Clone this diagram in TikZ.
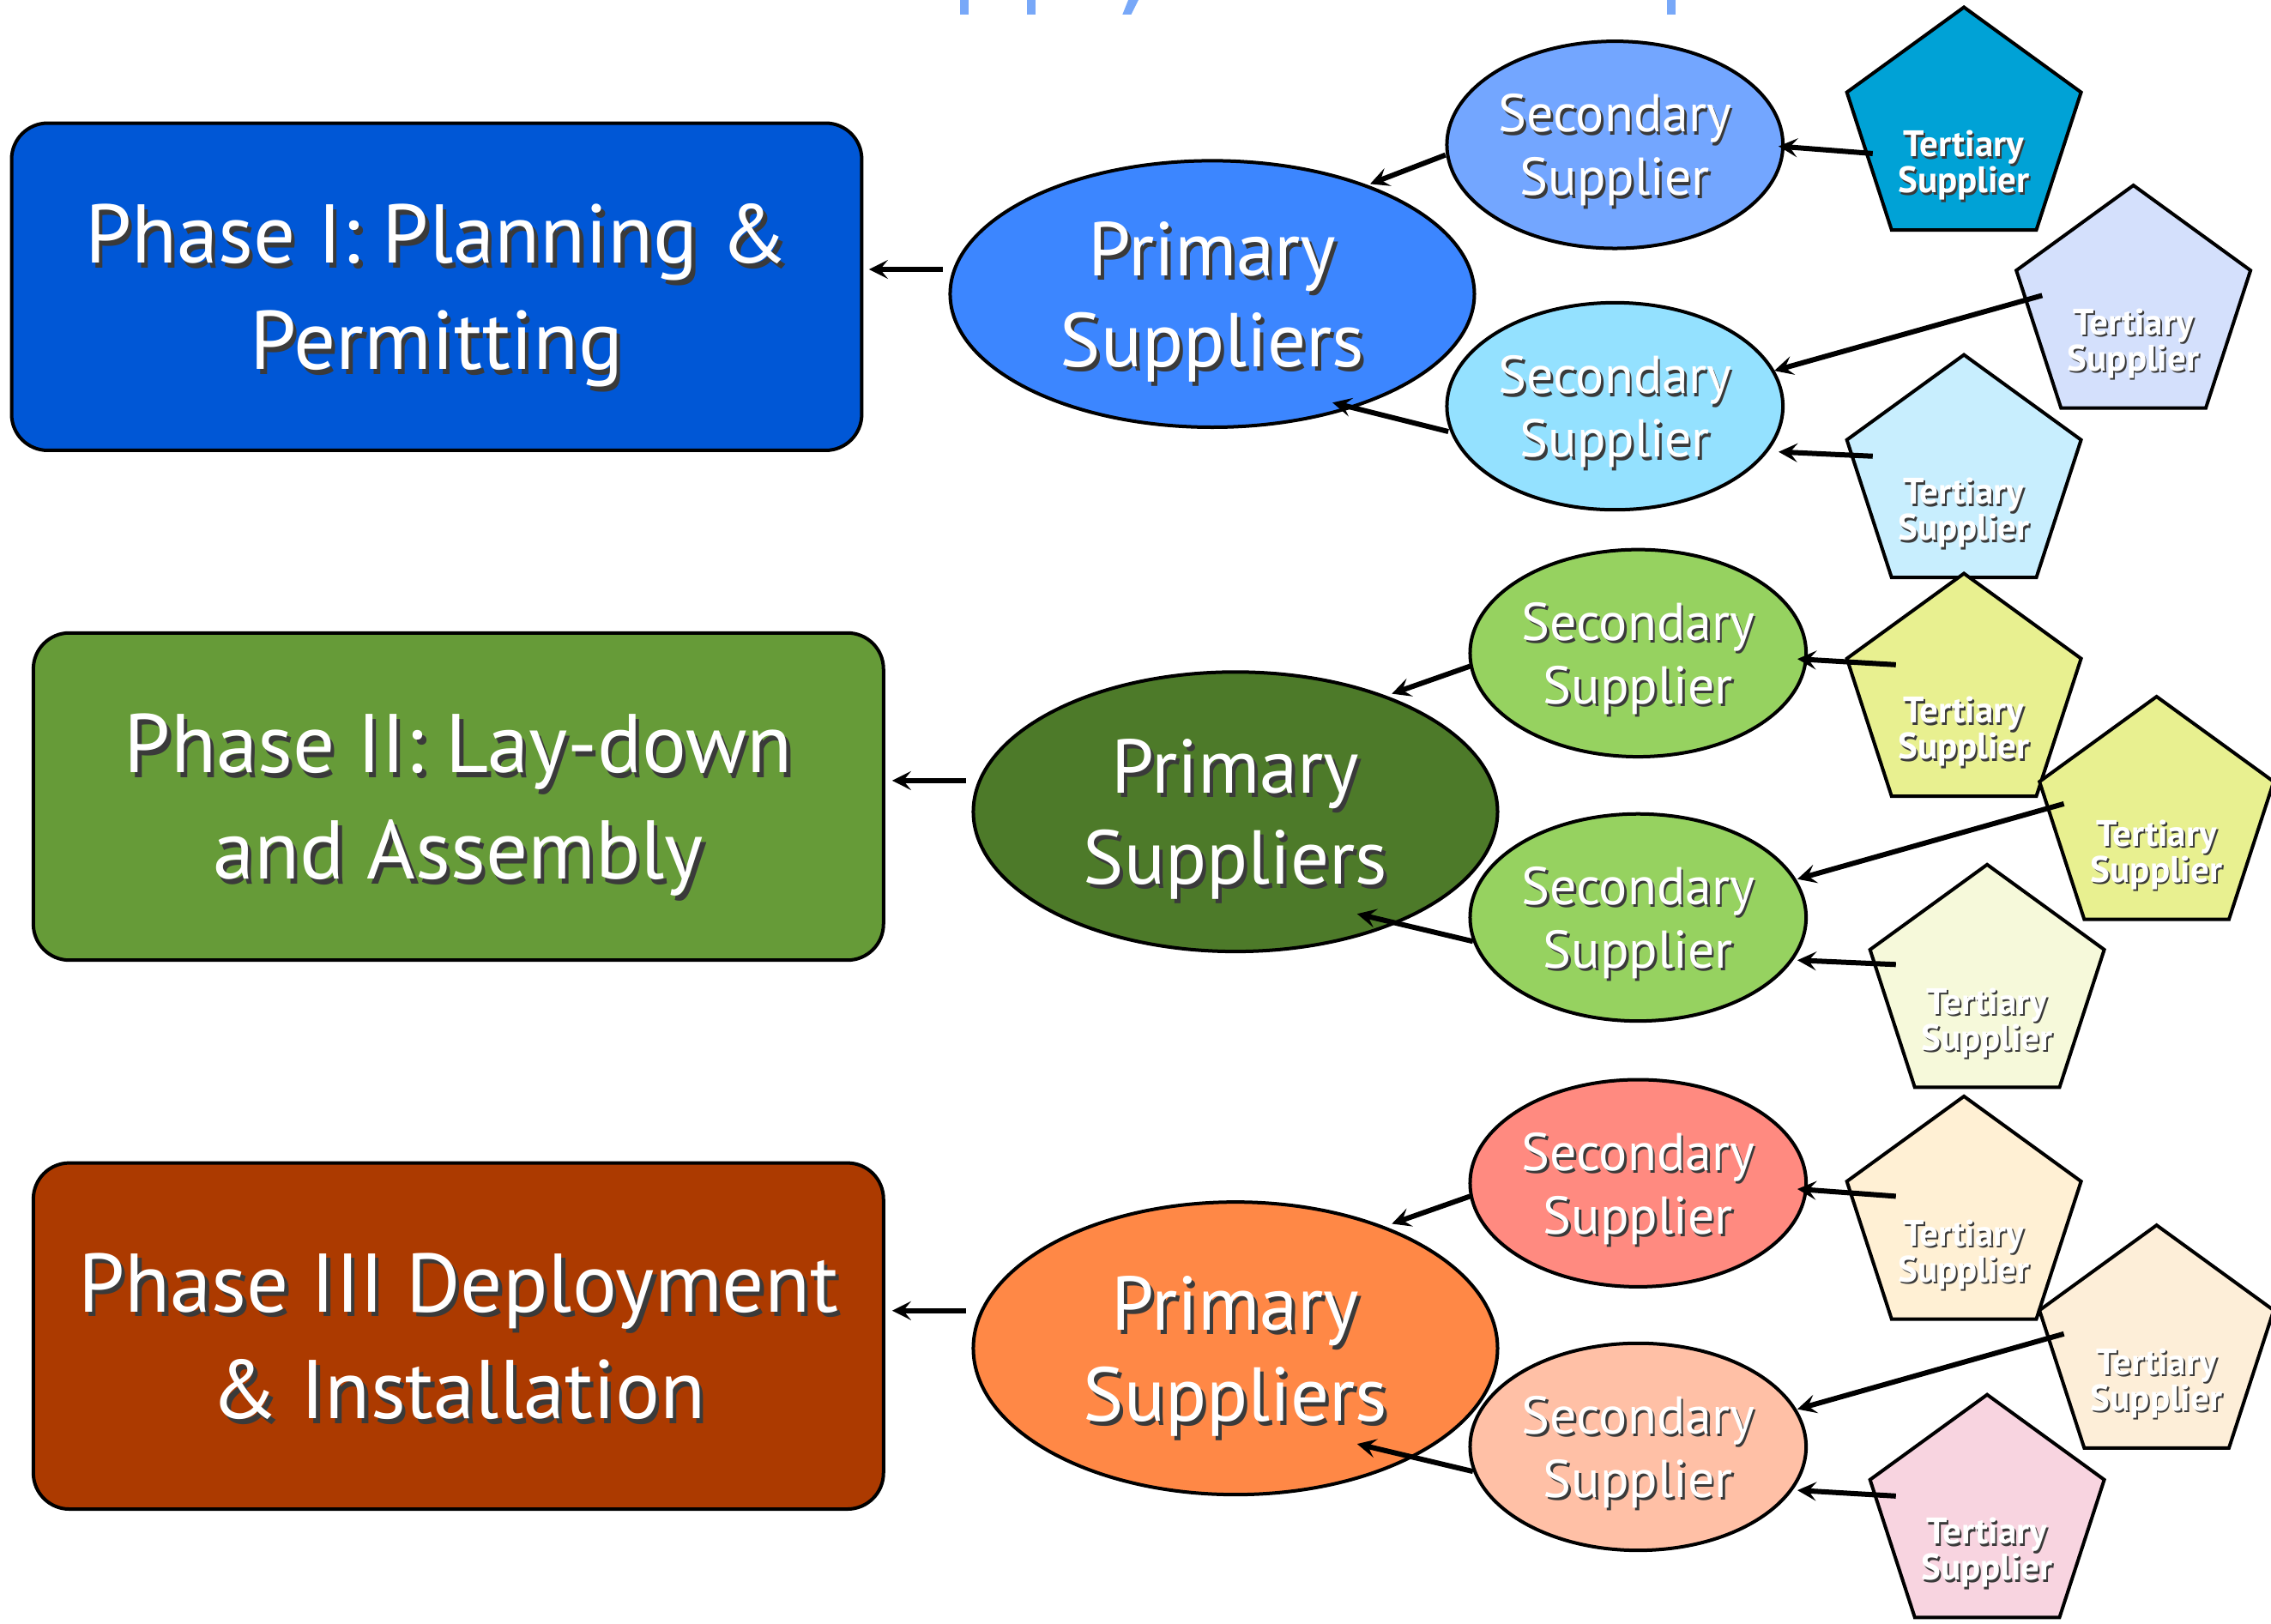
\documentclass[tikz,border=0pt]{standalone}
\usepackage{fontspec}
\setmainfont{PT Sans}
\usetikzlibrary{shapes.geometric,arrows.meta}

\definecolor{titlec}{HTML}{78A8F8}
\definecolor{shadowc}{HTML}{3A3A3A}
\definecolor{ph1}{HTML}{0057D6}
\definecolor{ph2}{HTML}{669B38}
\definecolor{ph3}{HTML}{AC3A00}
\definecolor{p1}{HTML}{3C86FF}
\definecolor{p2}{HTML}{4D7A29}
\definecolor{p3}{HTML}{FF8846}
\definecolor{s1a}{HTML}{73A6FF}
\definecolor{s1b}{HTML}{94E1FF}
\definecolor{s2}{HTML}{96D260}
\definecolor{s3a}{HTML}{FF8A80}
\definecolor{s3b}{HTML}{FFC0A6}
\definecolor{t1}{HTML}{00A2D6}
\definecolor{t2}{HTML}{D4E0FC}
\definecolor{t3}{HTML}{C8EEFE}
\definecolor{t4}{HTML}{E8F090}
\definecolor{t6}{HTML}{F6F9DA}
\definecolor{t7}{HTML}{FFF0D4}
\definecolor{t8}{HTML}{FDEED8}
\definecolor{t9}{HTML}{F8D4E0}

% white lettering with a dark drop shadow
\newcommand\shd[1]{\leavevmode\rlap{\kern.045em\raisebox{-.055em}{\textcolor{shadowc}{#1}}}#1}

\begin{document}
\begin{tikzpicture}[x=0.844pt,y=-0.844pt,
  phase/.style={draw=black, line width=2pt, rounded corners=21pt,
    minimum width=495.4pt, minimum height=190.7pt, inner sep=0pt,
    text=white, align=center, text depth=0pt,
    font=\fontsize{48.5}{62}\selectfont},
  prim/.style={ellipse, draw=black, line width=2pt, minimum width=305.5pt,
    inner sep=0pt, text=white, align=center, text depth=0pt,
    font=\fontsize{44.5}{53}\selectfont},
  sec/.style={ellipse, draw=black, line width=2pt, minimum width=195.8pt,
    minimum height=120.7pt, inner sep=0pt, text=white, align=center,
    text depth=0pt, font=\fontsize{31}{37}\selectfont},
  tlab/.style={text=white, align=center, yshift=-21pt,
    font=\fontsize{21.5}{21}\selectfont\bfseries},
  tert/.style={regular polygon, regular polygon sides=5, draw=black,
    line width=2pt, minimum size=143.5pt, inner sep=0pt,
    label={[tlab]center:{\shd{Tertiary}\\\shd{Supplier}}}},
  conn/.style={line width=3pt, -{Stealth[length=11pt,width=11pt,inset=4.5pt]}},
]
\useasboundingbox (0,0) rectangle (1568,1121);

% descenders of the heading, cut by the top edge
\fill[titlec] (663,0) rectangle (669,10);
\fill[titlec] (709,0) rectangle (715,10);
\fill[titlec] (779,0) -- (786,0) -- (781,10) -- (775,10) -- cycle;
\fill[titlec] (1151,0) rectangle (1157,10);

% phases
\node[phase, fill=ph1] (Ph1) at (301.5,198) {\shd{Phase I: Planning \&}\\\shd{Permitting}};
\node[phase, fill=ph2] (Ph2) at (316.5,550) {\shd{Phase II: Lay-down}\\\shd{and Assembly}};
\node[phase, fill=ph3, minimum height=201.7pt] (Ph3) at (316.5,922.5) {\shd{Phase III Deployment}\\\shd{\& Installation}};

% primary suppliers
\node[prim, fill=p1, minimum height=155.3pt] (P1) at (837,203) {\shd{Primary}\\\shd{Suppliers}};
\node[prim, fill=p2, minimum height=162.9pt] (P2) at (853,560.5) {\shd{Primary}\\\shd{Suppliers}};
\node[prim, fill=p3, minimum height=170.5pt] (P3) at (853,931) {\shd{Primary}\\\shd{Suppliers}};

% secondary suppliers
\node[sec, fill=s1a] (S1a) at (1115,100) {\shd{Secondary}\\\shd{Supplier}};
\node[sec, fill=s1b] (S1b) at (1115,280.5) {\shd{Secondary}\\\shd{Supplier}};
\node[sec, fill=s2] (S2a) at (1131,451) {\shd{Secondary}\\\shd{Supplier}};
\node[sec, fill=s2] (S2b) at (1131,633.5) {\shd{Secondary}\\\shd{Supplier}};
\node[sec, fill=s3a] (S3a) at (1131,817) {\shd{Secondary}\\\shd{Supplier}};
\node[sec, fill=s3b] (S3b) at (1131,999) {\shd{Secondary}\\\shd{Supplier}};

% tertiary suppliers
\node[tert, fill=t1] (T1) at (1356,90) {};
\node[tert, fill=t2] (T2) at (1473,213) {};
\node[tert, fill=t3] (T3) at (1356,330) {};
\node[tert, fill=t4] (T4) at (1356,481) {};
\node[tert, fill=t4] (T5) at (1489,566) {};
\node[tert, fill=t6] (T6) at (1372,682) {};
\node[tert, fill=t7] (T7) at (1356,842) {};
\node[tert, fill=t8] (T8) at (1489,931) {};
\node[tert, fill=t9] (T9) at (1372,1048) {};

% supply links
\draw[conn] ([shift={(-186,-17)}]P1.center) -- ([shift={(298.5,-12)}]Ph1.center);
\draw[conn] ([shift={(-117,7)}]S1a.center) -- ([shift={(109,-76)}]P1.center);
\draw[conn] ([shift={(-115,17.5)}]S1b.center) -- ([shift={(83,75)}]P1.center);
\draw[conn] ([shift={(-63,16)}]T1.center) -- ([shift={(113,1)}]S1a.center);
\draw[conn] ([shift={(-63,-9)}]T2.center) -- ([shift={(110,-24.5)}]S1b.center);
\draw[conn] ([shift={(-63,-15)}]T3.center) -- ([shift={(113,31.5)}]S1b.center);

\draw[conn] ([shift={(-186,-21.5)}]P2.center) -- ([shift={(299.5,-11)}]Ph2.center);
\draw[conn] ([shift={(-116,9)}]S2a.center) -- ([shift={(108,-81.5)}]P2.center);
\draw[conn] ([shift={(-114,16.5)}]S2b.center) -- ([shift={(84,70.5)}]P2.center);
\draw[conn] ([shift={(-47,-22)}]T4.center) -- ([shift={(110,4)}]S2a.center);
\draw[conn] ([shift={(-64,-11)}]T5.center) -- ([shift={(110,-26.5)}]S2b.center);
\draw[conn] ([shift={(-63,-16)}]T6.center) -- ([shift={(110,29.5)}]S2b.center);

\draw[conn] ([shift={(-186,-26)}]P3.center) -- ([shift={(299.5,-17.5)}]Ph3.center);
\draw[conn] ([shift={(-116,9)}]S3a.center) -- ([shift={(108,-86)}]P3.center);
\draw[conn] ([shift={(-114,17)}]S3b.center) -- ([shift={(84,66)}]P3.center);
\draw[conn] ([shift={(-47,-16)}]T7.center) -- ([shift={(110,4)}]S3a.center);
\draw[conn] ([shift={(-64,-10)}]T8.center) -- ([shift={(110,-26)}]S3b.center);
\draw[conn] ([shift={(-63,-15)}]T9.center) -- ([shift={(110,30)}]S3b.center);
\end{tikzpicture}
\end{document}
